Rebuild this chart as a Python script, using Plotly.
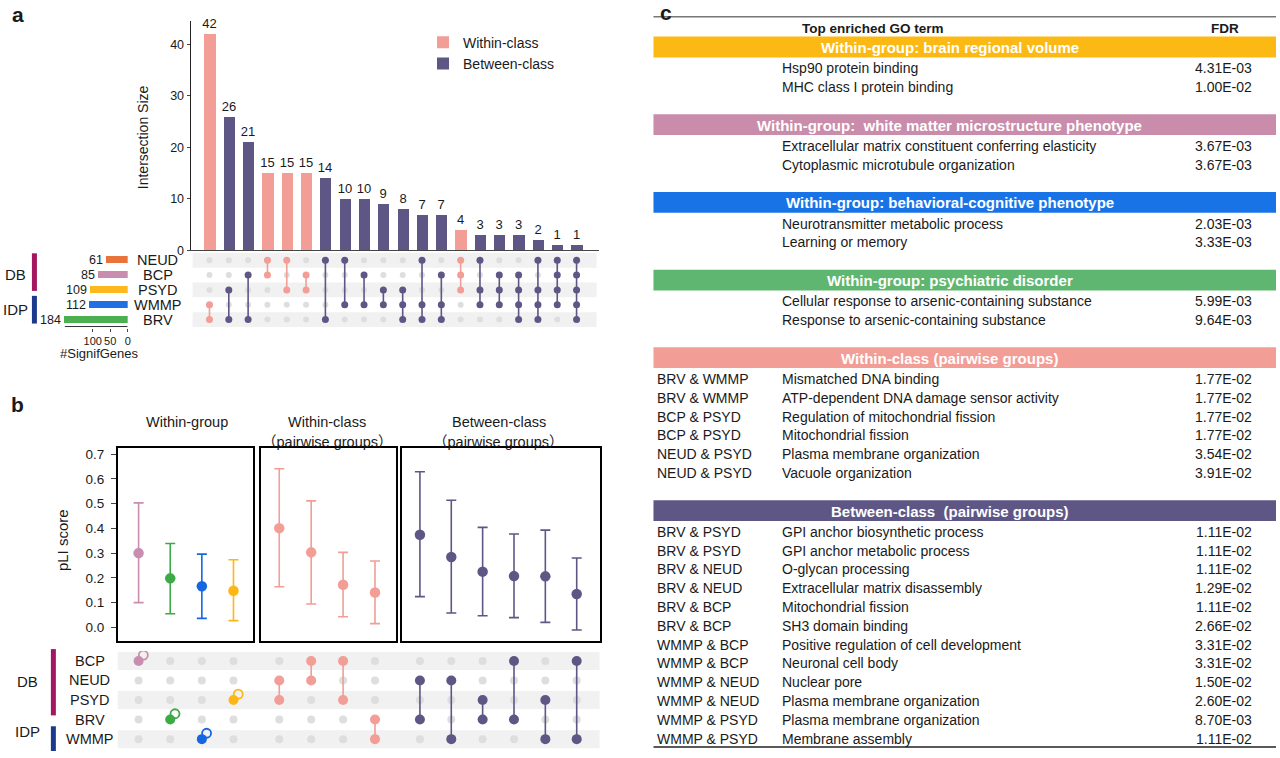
import plotly.graph_objects as go

W, H = 1280, 758
FONT = "Liberation Sans, Arial, Noto Sans CJK SC, sans-serif"


def px(x):
    return x / W


def py(y):
    return 1 - y / H


# ---------------- Panel a data ----------------
sets_a = ["NEUD", "BCP", "PSYD", "WMMP", "BRV"]
set_sizes = [61, 85, 109, 112, 184]
set_colors = ["#E8743B", "#C98DB0", "#FDB81E", "#1F6FE5", "#4CAF50"]
inter_sizes = [42, 26, 21, 15, 15, 15, 14, 10, 10, 9, 8, 7, 7, 4, 3, 3, 3, 2, 1, 1]
inter_sets = [
    ["WMMP", "BRV"], ["PSYD", "BRV"], ["BCP", "BRV"], ["NEUD", "BCP"],
    ["NEUD", "PSYD"], ["BCP", "PSYD"], ["NEUD", "BRV"], ["NEUD", "WMMP"],
    ["BCP", "WMMP"], ["PSYD", "WMMP"], ["PSYD", "WMMP", "BRV"],
    ["NEUD", "WMMP", "BRV"], ["BCP", "WMMP", "BRV"], ["NEUD", "BCP", "PSYD"],
    ["NEUD", "PSYD", "WMMP"], ["BCP", "PSYD", "WMMP"],
    ["BCP", "PSYD", "WMMP", "BRV"], ["NEUD", "PSYD", "WMMP", "BRV"],
    ["NEUD", "BCP", "PSYD", "WMMP"], ["NEUD", "BCP", "PSYD", "WMMP", "BRV"],
]
inter_class = ["Within-class", "Between-class", "Between-class", "Within-class",
               "Within-class", "Within-class", "Between-class", "Between-class",
               "Between-class", "Between-class", "Between-class", "Between-class",
               "Between-class", "Within-class", "Between-class", "Between-class",
               "Between-class", "Between-class", "Between-class", "Between-class"]
class_names = ["Within-class", "Between-class"]
C_WITHIN = "#F29D96"
C_BETWEEN = "#5E5786"
class_colors = [C_WITHIN, C_BETWEEN]
C_GREY = "#DEDEDE"
C_STRIPE = "#F1F1F1"
C_DB = "#A2175F"
C_IDP = "#1B3A8C"

# ---------------- Panel b data ----------------
sets_b = ["BCP", "NEUD", "PSYD", "BRV", "WMMP"]
wg_sets = [["BCP"], ["BRV"], ["WMMP"], ["PSYD"]]
wg_mean = [0.300, 0.198, 0.166, 0.148]
wg_low = [0.100, 0.055, 0.036, 0.027]
wg_high = [0.503, 0.339, 0.296, 0.273]
wg_colors = ["#C98DB0", "#3DAA48", "#1467E0", "#FDB714"]
wc_sets = [["NEUD", "PSYD"], ["BCP", "NEUD"], ["BCP", "PSYD"], ["BRV", "WMMP"]]
wc_mean = [0.401, 0.303, 0.172, 0.141]
wc_low = [0.164, 0.094, 0.043, 0.015]
wc_high = [0.641, 0.511, 0.303, 0.268]
bc_sets = [["NEUD", "BRV"], ["NEUD", "WMMP"], ["PSYD", "BRV"], ["BCP", "BRV"],
           ["PSYD", "WMMP"], ["BCP", "WMMP"]]
bc_mean = [0.374, 0.284, 0.225, 0.207, 0.206, 0.135]
bc_low = [0.124, 0.058, 0.047, 0.039, 0.020, -0.011]
bc_high = [0.629, 0.514, 0.404, 0.377, 0.393, 0.280]
b_titles = ["Within-group", "Within-class", "Between-class"]
b_subtitles = ["", "（pairwise groups）", "（pairwise groups）"]
pli_ticks = [0.0, 0.1, 0.2, 0.3, 0.4, 0.5, 0.6, 0.7]

# ---------------- Panel c data ----------------
sec_titles = ["Within-group: brain regional volume",
              "Within-group:  white matter microstructure phenotype",
              "Within-group: behavioral-cognitive phenotype",
              "Within-group: psychiatric disorder",
              "Within-class (pairwise groups)",
              "Between-class  (pairwise groups)"]
sec_colors = ["#FDB913", "#C98CAB", "#1874E6", "#5FB670", "#F29D96", "#5E5786"]
sec_pairs = [
    ["", ""], ["", ""], ["", ""], ["", ""],
    ["BRV & WMMP", "BRV & WMMP", "BCP & PSYD", "BCP & PSYD", "NEUD & PSYD", "NEUD & PSYD"],
    ["BRV & PSYD", "BRV & PSYD", "BRV & NEUD", "BRV & NEUD", "BRV & BCP", "BRV & BCP",
     "WMMP & BCP", "WMMP & BCP", "WMMP & NEUD", "WMMP & NEUD", "WMMP & PSYD", "WMMP & PSYD"],
]
sec_terms = [
    ["Hsp90 protein binding", "MHC class I protein binding"],
    ["Extracellular matrix constituent conferring elasticity", "Cytoplasmic microtubule organization"],
    ["Neurotransmitter metabolic process", "Learning or memory"],
    ["Cellular response to arsenic-containing substance", "Response to arsenic-containing substance"],
    ["Mismatched DNA binding", "ATP-dependent DNA damage sensor activity",
     "Regulation of mitochondrial fission", "Mitochondrial fission",
     "Plasma membrane organization", "Vacuole organization"],
    ["GPI anchor biosynthetic process", "GPI anchor metabolic process", "O-glycan processing",
     "Extracellular matrix disassembly", "Mitochondrial fission", "SH3 domain binding",
     "Positive regulation of cell development", "Neuronal cell body", "Nuclear pore",
     "Plasma membrane organization", "Plasma membrane organization", "Membrane assembly"],
]
sec_fdr = [
    ["4.31E-03", "1.00E-02"],
    ["3.67E-03", "3.67E-03"],
    ["2.03E-03", "3.33E-03"],
    ["5.99E-03", "9.64E-03"],
    ["1.77E-02", "1.77E-02", "1.77E-02", "1.77E-02", "3.54E-02", "3.91E-02"],
    ["1.11E-02", "1.11E-02", "1.11E-02", "1.29E-02", "1.11E-02", "2.66E-02",
     "3.31E-02", "3.31E-02", "1.50E-02", "2.60E-02", "8.70E-03", "1.11E-02"],
]

fig = go.Figure()
annotations = []
shapes = []


def ann(x, y, text, size=13, bold=False, xanchor="center", yanchor="middle",
        color="#1a1a1a", angle=0, xref="paper", yref="paper"):
    if bold:
        text = "<b>" + text + "</b>"
    annotations.append(dict(x=x, y=y, xref=xref, yref=yref, text=text, showarrow=False,
                            xanchor=xanchor, yanchor=yanchor, textangle=angle,
                            font=dict(size=size, color=color, family=FONT)))


# ================= Panel a =================
for cls, col in zip(class_names, class_colors):
    xs = [i for i, c in enumerate(inter_class) if c == cls]
    ys = [inter_sizes[i] for i in xs]
    fig.add_trace(go.Bar(x=xs, y=ys, name=cls, marker=dict(color=col, line=dict(width=0)),
                         width=0.58, text=[str(v) for v in ys], textposition="outside",
                         constraintext="none",
                         textfont=dict(size=13, color="#1a1a1a", family=FONT),
                         cliponaxis=False, xaxis="x", yaxis="y", hoverinfo="skip"))

row_a = {s: len(sets_a) - 1 - i for i, s in enumerate(sets_a)}
for i, s in enumerate(sets_a):
    if i % 2 == 0:
        shapes.append(dict(type="rect", xref="x2 domain", yref="y2", x0=0.005, x1=0.995,
                           y0=row_a[s] - 0.5, y1=row_a[s] + 0.5, fillcolor=C_STRIPE,
                           line=dict(width=0), layer="below"))
gx, gy = [], []
for j, members in enumerate(inter_sets):
    for s in sets_a:
        if s not in members:
            gx.append(j)
            gy.append(row_a[s])
fig.add_trace(go.Scatter(x=gx, y=gy, mode="markers", marker=dict(size=6, color=C_GREY),
                         xaxis="x2", yaxis="y2", showlegend=False, hoverinfo="skip"))
for cls, col in zip(class_names, class_colors):
    lx, ly, dx, dy = [], [], [], []
    for j, members in enumerate(inter_sets):
        if inter_class[j] != cls:
            continue
        rows = [row_a[s] for s in members]
        lx += [j, j, None]
        ly += [min(rows), max(rows), None]
        dx += [j] * len(rows)
        dy += rows
    fig.add_trace(go.Scatter(x=lx, y=ly, mode="lines", line=dict(color=col, width=1.6),
                             xaxis="x2", yaxis="y2", showlegend=False, hoverinfo="skip"))
    fig.add_trace(go.Scatter(x=dx, y=dy, mode="markers", marker=dict(size=7, color=col),
                             xaxis="x2", yaxis="y2", showlegend=False, hoverinfo="skip"))

# set sizes
fig.add_trace(go.Bar(x=set_sizes, y=[row_a[s] for s in sets_a], orientation="h",
                     marker=dict(color=set_colors, line=dict(width=0)), width=0.47,
                     text=[str(v) for v in set_sizes], textposition="outside",
                     constraintext="none",
                     textfont=dict(size=12.5, color="#1a1a1a", family=FONT), cliponaxis=False,
                     xaxis="x3", yaxis="y3", showlegend=False, hoverinfo="skip"))
shapes.append(dict(type="line", xref="x3", yref="paper", x0=0, x1=max(set_sizes) - 4,
                   y0=py(329), y1=py(329), line=dict(color="#333", width=1)))
for s in sets_a:
    ann(px(158), row_a[s], s, size=14.5, xref="paper", yref="y2")
ann(px(100), py(356), "#SignifGenes", size=13)
ann(px(143), py(138), "Intersection Size", size=14, angle=-90)
ann(px(18), py(14), "a", size=21, bold=True)
# class brackets
shapes.append(dict(type="rect", xref="paper", yref="paper", x0=px(32), x1=px(37),
                   y0=py(293), y1=py(255), fillcolor=C_DB, line=dict(width=0)))
shapes.append(dict(type="rect", xref="paper", yref="paper", x0=px(32), x1=px(37),
                   y0=py(326), y1=py(298), fillcolor=C_IDP, line=dict(width=0)))
ann(px(3), py(276), "DB", size=15, xanchor="left")
ann(px(1), py(312), "IDP", size=15, xanchor="left")

# ================= Panel b =================
b_means = [wg_mean, wc_mean, bc_mean]
b_lows = [wg_low, wc_low, bc_low]
b_highs = [wg_high, wc_high, bc_high]
b_sets = [wg_sets, wc_sets, bc_sets]
b_cols = [wg_colors, [C_WITHIN] * len(wc_mean), [C_BETWEEN] * len(bc_mean)]
box_x = ["x4", "x5", "x6"]
box_y = ["y4", "y5", "y6"]
mat_x = ["x7", "x8", "x9"]
row_b = {s: len(sets_b) - 1 - i for i, s in enumerate(sets_b)}

for k in range(3):
    means, lows, highs, cols = b_means[k], b_lows[k], b_highs[k], b_cols[k]
    for i in range(len(means)):
        fig.add_trace(go.Scatter(
            x=[i], y=[means[i]], mode="markers", marker=dict(size=10.5, color=cols[i]),
            error_y=dict(type="data", symmetric=False, array=[highs[i] - means[i]],
                         arrayminus=[means[i] - lows[i]], color=cols[i], thickness=1.6, width=5),
            xaxis=box_x[k], yaxis=box_y[k], showlegend=False, hoverinfo="skip"))
    # matrix
    gx, gy = [], []
    for i, members in enumerate(b_sets[k]):
        for s in sets_b:
            if s not in members:
                gx.append(i)
                gy.append(row_b[s])
    fig.add_trace(go.Scatter(x=gx, y=gy, mode="markers", marker=dict(size=8, color=C_GREY),
                             xaxis=mat_x[k], yaxis="y7", showlegend=False, hoverinfo="skip"))
    for i, members in enumerate(b_sets[k]):
        rows = [row_b[s] for s in members]
        if len(rows) > 1:
            fig.add_trace(go.Scatter(x=[i, i], y=[min(rows), max(rows)], mode="lines",
                                     line=dict(color=cols[i], width=1.6), xaxis=mat_x[k],
                                     yaxis="y7", showlegend=False, hoverinfo="skip"))
        else:
            fig.add_trace(go.Scatter(x=[i + 0.15], y=[rows[0] + 0.3], mode="markers",
                                     marker=dict(size=9, symbol="circle-open", color=cols[i],
                                                 line=dict(width=1.8, color=cols[i])),
                                     xaxis=mat_x[k], yaxis="y7", showlegend=False,
                                     hoverinfo="skip"))
        fig.add_trace(go.Scatter(x=[i] * len(rows), y=rows, mode="markers",
                                 marker=dict(size=10, color=cols[i]), xaxis=mat_x[k],
                                 yaxis="y7", showlegend=False, hoverinfo="skip"))

for i, s in enumerate(sets_b):
    if i % 2 == 0:
        shapes.append(dict(type="rect", xref="paper", yref="y7", x0=px(118), x1=px(601),
                           y0=row_b[s] - 0.46, y1=row_b[s] + 0.46, fillcolor=C_STRIPE,
                           line=dict(width=0), layer="below"))
    ann(px(90), row_b[s], s, size=14.5, yref="y7")

shapes.append(dict(type="rect", xref="paper", yref="paper", x0=px(51), x1=px(56),
                   y0=py(722), y1=py(655), fillcolor=C_DB, line=dict(width=0)))
shapes.append(dict(type="rect", xref="paper", yref="paper", x0=px(51), x1=px(56),
                   y0=py(758), y1=py(733), fillcolor=C_IDP, line=dict(width=0)))
ann(px(28), py(688), "DB", size=15)
ann(px(28), py(738), "IDP", size=15)
ann(px(18), py(408), "b", size=21, bold=True)
ann(px(62), py(545), "pLI score", size=15, angle=-90)
title_x = [187, 328, 500]
for k in range(3):
    ann(px(title_x[k]), py(425), b_titles[k], size=14.5)
    if b_subtitles[k]:
        ann(px(title_x[k]), py(446), b_subtitles[k], size=14.5)

# ================= Panel c (table) =================
TL, TR = 655, 1279
ann(px(668), py(12), "c", size=21, bold=True)
shapes.append(dict(type="line", xref="paper", yref="paper", x0=px(TL), x1=px(TR),
                   y0=py(16), y1=py(16), line=dict(color="#777", width=1.5)))
ann(px(875), py(28), "Top enriched GO term", size=13.5, bold=True)
ann(px(1228), py(28), "FDR", size=13.5, bold=True)
BAND_H, FIRST_OFF, ROW_H, GAP = 21, 11, 19.0, 27.5
top = 36
for s in range(len(sec_titles)):
    shapes.append(dict(type="rect", xref="paper", yref="paper", x0=px(TL), x1=px(TR),
                       y0=py(top + BAND_H), y1=py(top), fillcolor=sec_colors[s],
                       line=dict(width=0)))
    ann(px(952), py(top + BAND_H / 2 + 0.5), sec_titles[s], size=15, bold=True,
        color="white")
    y = top + BAND_H + FIRST_OFF
    for r in range(len(sec_terms[s])):
        if sec_pairs[s][r]:
            ann(px(657), py(y), sec_pairs[s][r], size=14, xanchor="left")
        ann(px(782), py(y), sec_terms[s][r], size=14, xanchor="left")
        ann(px(1257), py(y), sec_fdr[s][r], size=14, xanchor="right")
        last = y
        y += ROW_H
    top = last + GAP
shapes.append(dict(type="line", xref="paper", yref="paper", x0=px(TL), x1=px(TR),
                   y0=py(754), y1=py(754), line=dict(color="#222", width=1.5)))

# ================= Layout =================
hidden = dict(visible=False, showgrid=False, zeroline=False)
box_axis = dict(showline=True, mirror=True, linecolor="black", linewidth=1.5,
                showgrid=False, zeroline=False, showticklabels=False, ticks="")
yr_box = [-0.056, 0.724]
fig.update_layout(
    width=W, height=H, margin=dict(l=0, r=0, t=0, b=0),
    paper_bgcolor="white", plot_bgcolor="rgba(0,0,0,0)",
    font=dict(family=FONT, size=12, color="#1a1a1a"),
    barmode="overlay", bargap=0,
    showlegend=True,
    legend=dict(x=px(424), y=py(26), xanchor="left", yanchor="top",
                bgcolor="rgba(0,0,0,0)", font=dict(size=14, family=FONT),
                tracegroupgap=2, itemsizing="constant"),
    xaxis=dict(domain=[px(191), px(600)], range=[-0.98, 20.14], anchor="y",
               showline=True, linecolor="#444", linewidth=1, showticklabels=False,
               ticks="", showgrid=False, zeroline=False),
    yaxis=dict(domain=[py(252), py(20)], range=[0, 44.6], anchor="x", showline=True,
               linecolor="#222", linewidth=1, ticks="outside", ticklen=3, tickcolor="#444",
               tickvals=[0, 10, 20, 30, 40], tickfont=dict(size=12.5), showgrid=False,
               zeroline=False),
    xaxis2=dict(domain=[px(191), px(600)], range=[-0.98, 20.14], anchor="y2", **hidden),
    yaxis2=dict(domain=[py(330), py(254)], range=[-0.533, 4.533], anchor="x2", **hidden),
    xaxis3=dict(domain=[px(40), px(128)], range=[251.4, 0], anchor="y3", showline=False,
                ticks="outside", ticklen=3, tickcolor="#444", tickvals=[0, 50, 100],
                tickangle=0, tickfont=dict(size=11), showgrid=False, zeroline=False),
    yaxis3=dict(domain=[py(330), py(254)], range=[-0.533, 4.533], anchor="x3", **hidden),
    xaxis4=dict(domain=[px(118), px(254)], range=[-0.66, 3.63], anchor="y4", **box_axis),
    yaxis4=dict(domain=[py(647), py(452)], range=yr_box, anchor="x4", showline=True,
                mirror=True, linecolor="black", linewidth=1.5, showgrid=False,
                zeroline=False, ticks="outside", ticklen=5, tickcolor="#444",
                ticklabelstandoff=4,
                tickvals=pli_ticks, ticktext=["%.1f" % v for v in pli_ticks],
                tickfont=dict(size=13.5)),
    xaxis5=dict(domain=[px(262), px(397)], range=[-0.56, 3.66], anchor="y5", **box_axis),
    yaxis5=dict(domain=[py(647), py(452)], range=yr_box, anchor="x5", **box_axis),
    xaxis6=dict(domain=[px(403), px(601)], range=[-0.57, 5.73], anchor="y6", **box_axis),
    yaxis6=dict(domain=[py(647), py(452)], range=yr_box, anchor="x6", **box_axis),
    xaxis7=dict(domain=[px(118), px(254)], range=[-0.66, 3.63], anchor="y7", **hidden),
    xaxis8=dict(domain=[px(262), px(397)], range=[-0.56, 3.66], anchor="y7", **hidden),
    xaxis9=dict(domain=[px(403), px(601)], range=[-0.57, 5.73], anchor="y7", **hidden),
    yaxis7=dict(domain=[py(756), py(657)], range=[-0.506, 4.506], anchor="x7", **hidden),
    annotations=annotations,
    shapes=shapes,
)

fig.write_html("out.html", config={"displayModeBar": False},
               post_script="document.body.style.margin='0px';document.body.style.overflow='hidden';")
